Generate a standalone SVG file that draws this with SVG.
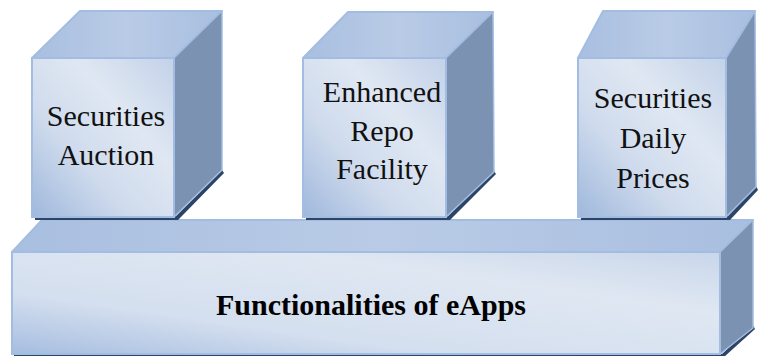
<svg xmlns="http://www.w3.org/2000/svg" width="759" height="356" viewBox="0 0 759 356">
<defs>
<linearGradient id="front" x1="0" y1="1" x2="1" y2="0">
<stop offset="0" stop-color="#9fb8dc"/>
<stop offset="0.35" stop-color="#cfdbed"/>
<stop offset="0.65" stop-color="#dfe7f2"/>
<stop offset="1" stop-color="#c3d2e9"/>
</linearGradient>
<linearGradient id="frontBar" x1="0" y1="1" x2="1" y2="0">
<stop offset="0" stop-color="#a6bde0"/>
<stop offset="0.3" stop-color="#d4dfef"/>
<stop offset="0.7" stop-color="#dfe7f2"/>
<stop offset="1" stop-color="#c9d6ea"/>
</linearGradient>
<linearGradient id="top" x1="0" y1="0" x2="1" y2="0">
<stop offset="0" stop-color="#a9bfe0"/>
<stop offset="0.5" stop-color="#b9cbe6"/>
<stop offset="1" stop-color="#a9bfe0"/>
</linearGradient>
</defs>
<style>
.front{fill:url(#front);stroke:#a3bde2;stroke-width:2}
.frontbar{fill:url(#frontBar);stroke:#a3bde2;stroke-width:2}
.top{fill:url(#top);stroke:#a3bde2;stroke-width:2;stroke-linejoin:round}
.side{fill:#7b92b3;stroke:#a3bde2;stroke-width:1.5;stroke-linejoin:round}
.shadow{fill:#2c4466}
.lbl{font-size:30px;fill:#111;text-anchor:middle}
.title{font-size:30px;font-weight:bold;fill:#000;text-anchor:middle}
</style>
<g id="base">
<polygon class="shadow" points="14,354 722,354 753,325 755,329 724,357 14,357"/>
<polygon class="top" points="12,252 42,220 753,220 720,252"/>
<polygon class="side" points="720,252 753,220 753,328 720,354"/>
<rect class="frontbar" x="12" y="252" width="708" height="102"/>
<text class="title" font-family="'Liberation Serif', 'Times New Roman', serif" x="371" y="315">Functionalities of eApps</text>
</g>
<g id="cube1">
<polygon class="shadow" points="35,216 176,216 222,170 224,173 178,220 35,220"/>
<polygon class="top" points="32,58 80,11 222,11 174,58"/>
<polygon class="side" points="174,58 222,11 222,170 174,217"/>
<rect class="front" x="32" y="58" width="142" height="159"/>
<text class="lbl" font-family="'Liberation Serif', 'Times New Roman', serif" x="106" y="126">Securities</text>
<text class="lbl" font-family="'Liberation Serif', 'Times New Roman', serif" x="106" y="165">Auction</text>
</g>
<g id="cube2">
<polygon class="shadow" points="306,216 448,216 494,171 496,174 450,220 306,220"/>
<polygon class="top" points="303,58 348,12 493,12 446,58"/>
<polygon class="side" points="446,58 493,12 494,172 446,217"/>
<rect class="front" x="303" y="58" width="143" height="159"/>
<text class="lbl" font-family="'Liberation Serif', 'Times New Roman', serif" x="382" y="102">Enhanced</text>
<text class="lbl" font-family="'Liberation Serif', 'Times New Roman', serif" x="382" y="140.5">Repo</text>
<text class="lbl" font-family="'Liberation Serif', 'Times New Roman', serif" x="382" y="179">Facility</text>
</g>
<g id="cube3">
<polygon class="shadow" points="581,216 728,216 756,186 758,190 730,220 581,220"/>
<polygon class="top" points="578,58 603,11 755,11 726,58"/>
<polygon class="side" points="726,58 755,11 756,187 726,217"/>
<rect class="front" x="578" y="58" width="148" height="159"/>
<text class="lbl" font-family="'Liberation Serif', 'Times New Roman', serif" x="653" y="108">Securities</text>
<text class="lbl" font-family="'Liberation Serif', 'Times New Roman', serif" x="653" y="148">Daily</text>
<text class="lbl" font-family="'Liberation Serif', 'Times New Roman', serif" x="653" y="188">Prices</text>
</g>
</svg>
